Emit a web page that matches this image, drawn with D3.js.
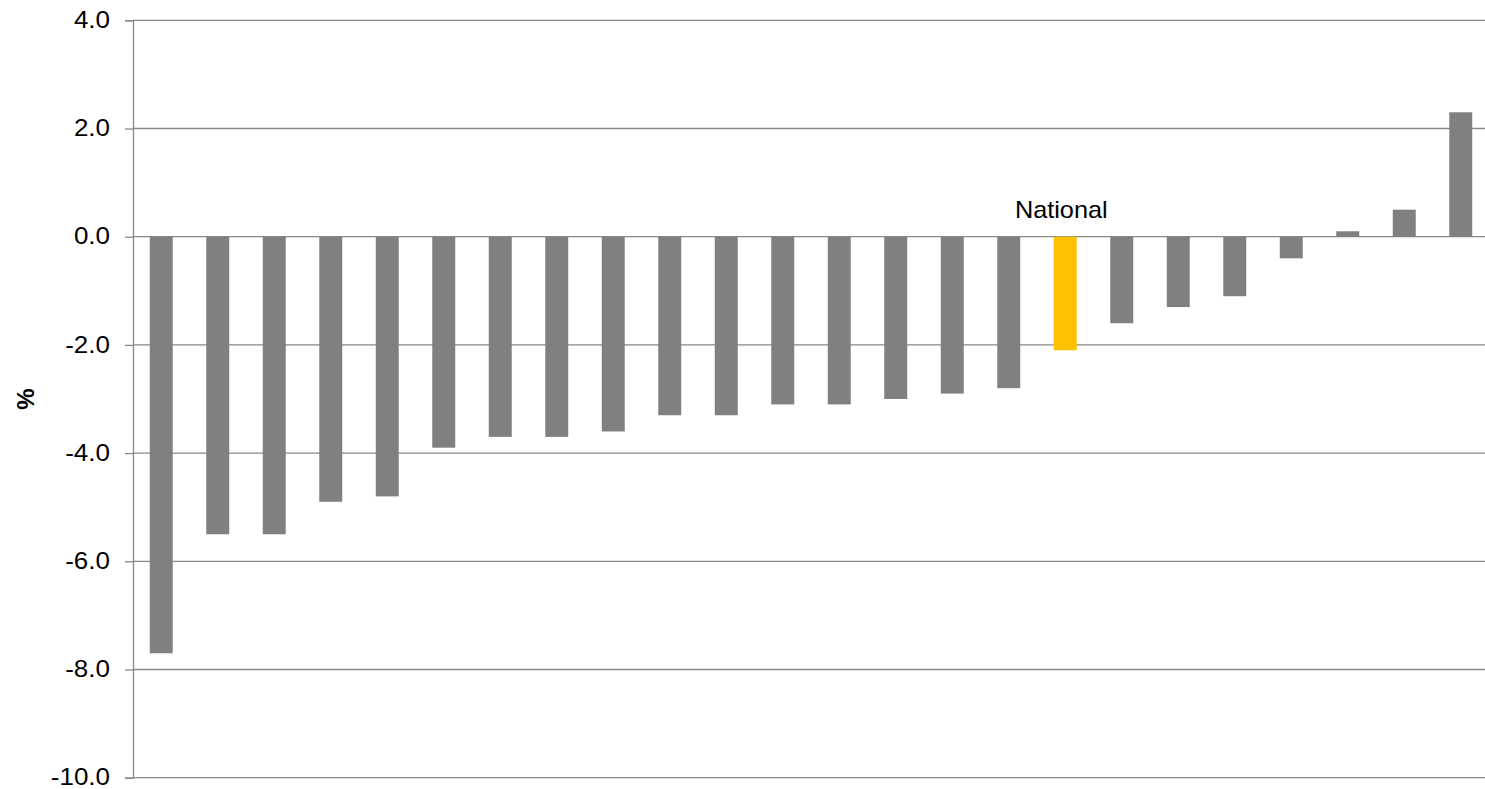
<!DOCTYPE html>
<html>
<head>
<meta charset="utf-8">
<script src="https://cdn.jsdelivr.net/npm/d3@7"></script>
<style>
  html, body { margin: 0; padding: 0; background: #fff; }
  svg { display: block; font-family: "Liberation Sans", Arial, sans-serif; }
</style>
</head>
<body>
<svg id="chart" width="1485" height="789"></svg>
<script>
// Data
const categories = ["A","B","C","D","E","F","G","H","I","J","K","L","M","N","O","P","National","Q","R","S","T","U","V","W"];
const values = [-7.7,-5.5,-5.5,-4.9,-4.8,-3.9,-3.7,-3.7,-3.6,-3.3,-3.3,-3.1,-3.1,-3.0,-2.9,-2.8,-2.1,-1.6,-1.3,-1.1,-0.4,0.1,0.5,2.3];
const highlight = "National";
const yTicks = [-10,-8,-6,-4,-2,0,2,4];
const yLabel = "%";

const svg = d3.select("#chart");
const W = 1485, H = 789;
const plot = {left: 133, right: 1489, top: 20.3, bottom: 777.7};

const x = d3.scaleBand()
  .domain(categories)
  .range([plot.left, plot.right])
  .paddingInner(0.593)
  .paddingOuter(0.2965);

const y = d3.scaleLinear()
  .domain([-10, 4])
  .range([plot.bottom, plot.top]);

const gridColor = "#888888";
const fmt = d => d3.format(".1f")(d).replace("\u2212", "-");

// Gridlines
svg.append("g")
  .selectAll("line")
  .data(yTicks)
  .join("line")
  .attr("x1", plot.left)
  .attr("x2", plot.right)
  .attr("y1", d => y(d))
  .attr("y2", d => y(d))
  .attr("stroke", gridColor)
  .attr("stroke-width", 1.3);

// Y axis (ticks via d3 axis, labels drawn with slight horizontal stretch)
const yAxis = d3.axisLeft(y)
  .tickValues(yTicks)
  .tickFormat("")
  .tickSize(8);

const gy = svg.append("g")
  .attr("transform", `translate(${plot.left},0)`)
  .call(yAxis);
gy.select(".domain").attr("stroke", gridColor).attr("stroke-width", 1.3);
gy.selectAll(".tick line").attr("stroke", gridColor).attr("stroke-width", 1.3);

svg.append("g")
  .selectAll("g")
  .data(yTicks)
  .join("g")
  .attr("transform", d => `translate(110,${y(d)}) scale(1.13,1)`)
  .append("text")
  .attr("text-anchor", "end")
  .attr("dy", "0.33em")
  .style("font-size", "23px")
  .attr("fill", "#000")
  .text(fmt);

// Bars
svg.append("g")
  .selectAll("rect")
  .data(categories.map((c, i) => ({c, v: values[i]})))
  .join("rect")
  .attr("x", d => x(d.c))
  .attr("width", x.bandwidth())
  .attr("y", d => y(Math.max(0, d.v)))
  .attr("height", d => Math.abs(y(d.v) - y(0)))
  .attr("fill", d => d.c === highlight ? "#FFC000" : "#808080");

// National label
svg.append("g")
  .attr("transform", `translate(${x(highlight) + x.bandwidth() / 2 - 4},${y(0) - 18.5}) scale(1.1,1)`)
  .append("text")
  .attr("text-anchor", "middle")
  .style("font-size", "23px")
  .attr("fill", "#000")
  .text(highlight);

// Y axis title
svg.append("text")
  .attr("transform", `translate(34,${(y(4) + y(-10)) / 2}) rotate(-90)`)
  .attr("text-anchor", "middle")
  .style("font-size", "24px")
  .style("font-weight", "bold")
  .attr("fill", "#000")
  .text(yLabel);
</script>
</body>
</html>
